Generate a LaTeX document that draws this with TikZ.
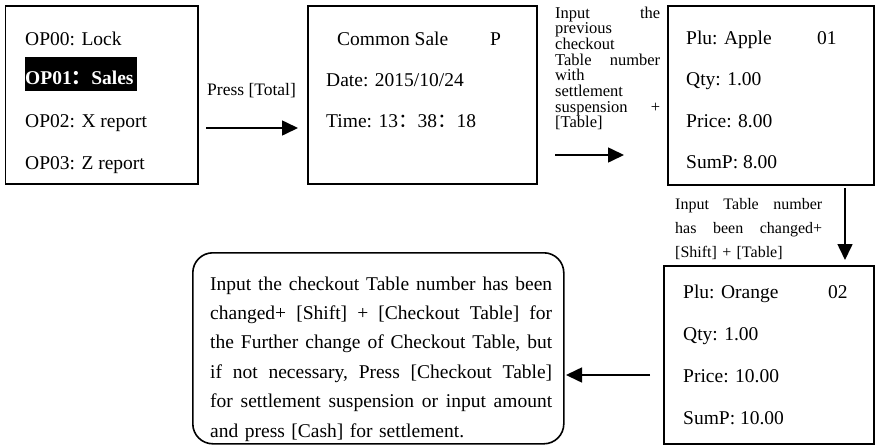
\documentclass[tikz,border=0pt]{standalone}
\usepackage{fontspec}
\setmainfont{Liberation Serif}
\newfontfamily\cjk{Noto Sans CJK SC}
\usetikzlibrary{arrows.meta}
\newcommand\jl[1]{\leavevmode\hbox to 342pt{\frenchspacing\spaceskip=0.25em plus 1fil\relax #1}}
\begin{document}
\begin{tikzpicture}[x=1pt,y=-1pt,
  screen/.style={draw, line width=1.6pt, inner sep=0pt, anchor=north west},
  scrtext/.style={anchor=base west, inner sep=0pt, font=\fontsize{19.5}{23}\selectfont},
  arr/.style={line width=1.6pt, -{Triangle[length=16pt,width=15pt]}}]
\useasboundingbox (0,0) rectangle (875,447);

% screen 1
\node[screen, minimum width=192.5pt, minimum height=178pt] (s1) at (4.5,5) {};
\node[scrtext] (s1a) at (25,45) {OP00: Lock};
\node[anchor=north west, fill=black, text=white, inner sep=0pt, text width=112pt,
      text height=27pt, text depth=7pt, align=left,
      font=\fontsize{19.5}{23}\selectfont\bfseries] (s1b) at (25,57) {OP01{\cjk ：}Sales};
\node[scrtext] (s1c) at (25,127) {OP02: X report};
\node[scrtext] (s1d) at (25,169) {OP03: Z report};

% arrow 1
\node[anchor=base west, inner sep=0pt, font=\fontsize{17.5}{20}\selectfont] (l1) at (207,95) {Press [Total]};
\coordinate (a1s) at (206,128);
\coordinate (a1e) at (298,128);
\draw[arr] (a1s) -- (a1e);

% screen 2
\node[screen, minimum width=229pt, minimum height=178pt] (s2) at (307,5) {};
\node[scrtext] (s2a) at (337,45) {Common Sale};
\node[scrtext] (s2p) at (490,45) {P};
\node[scrtext] (s2b) at (326,86) {Date: 2015/10/24};
\node[scrtext] (s2c) at (326,127) {Time: 13{\cjk ：}38{\cjk ：}18};

% arrow 2
\node[anchor=base west, inner sep=0pt, text width=105pt, align=left,
      font=\fontsize{16.5}{15.7}\selectfont] (l2) at (555,18)
  {Input\hfill the\\ previous\\ checkout\\ Table\hfill number\\ with\\ settlement\\ suspension\hfill +\\{}[Table]};
\coordinate (a2s) at (555,155);
\coordinate (a2e) at (624,155);
\draw[arr] (a2s) -- (a2e);

% screen 3
\node[screen, minimum width=206pt, minimum height=179pt] (s3) at (667,5) {};
\node[scrtext] (s3a) at (686,44) {Plu: Apple};
\node[scrtext] (s3n) at (817,44) {01};
\node[scrtext] (s3b) at (686,85) {Qty: 1.00};
\node[scrtext] (s3c) at (686,127) {Price: 8.00};
\node[scrtext] (s3d) at (686,168) {SumP: 8.00};

% arrow 3
\node[anchor=base west, inner sep=0pt, text width=147pt, align=left,
      font=\fontsize{16}{24}\selectfont] (l3) at (675,209)
  {Input\hfill Table\hfill number\\ has\hfill been\hfill changed+\\{}[Shift] + [Table]};
\coordinate (a3s) at (845,188);
\coordinate (a3e) at (845,260);
\draw[arr] (a3s) -- (a3e);

% screen 4
\node[screen, minimum width=210pt, minimum height=178pt] (s4) at (663,265) {};
\node[scrtext] (s4a) at (683,298) {Plu: Orange};
\node[scrtext] (s4n) at (828,298) {02};
\node[scrtext] (s4b) at (683,340) {Qty: 1.00};
\node[scrtext] (s4c) at (683,382) {Price: 10.00};
\node[scrtext] (s4d) at (683,424) {SumP: 10.00};

% arrow 4
\coordinate (a4s) at (650,375);
\coordinate (a4e) at (566,375);
\draw[arr] (a4s) -- (a4e);

% final rounded box
\node[screen, rounded corners=20pt, minimum width=371pt, minimum height=191pt] (r) at (192,252) {};
\node[anchor=base west, inner sep=0pt, text width=342pt, align=left,
      font=\fontsize{19.5}{29.4}\selectfont] (rt) at (210,290)
  {\jl{Input the checkout Table number has been}\\
   \jl{changed+ [Shift] + [Checkout Table] for}\\
   \jl{the Further change of Checkout Table, but}\\
   \jl{if not necessary, Press [Checkout Table]}\\
   \jl{for settlement suspension or input amount}\\
   and press [Cash] for settlement.};
\end{tikzpicture}
\end{document}
